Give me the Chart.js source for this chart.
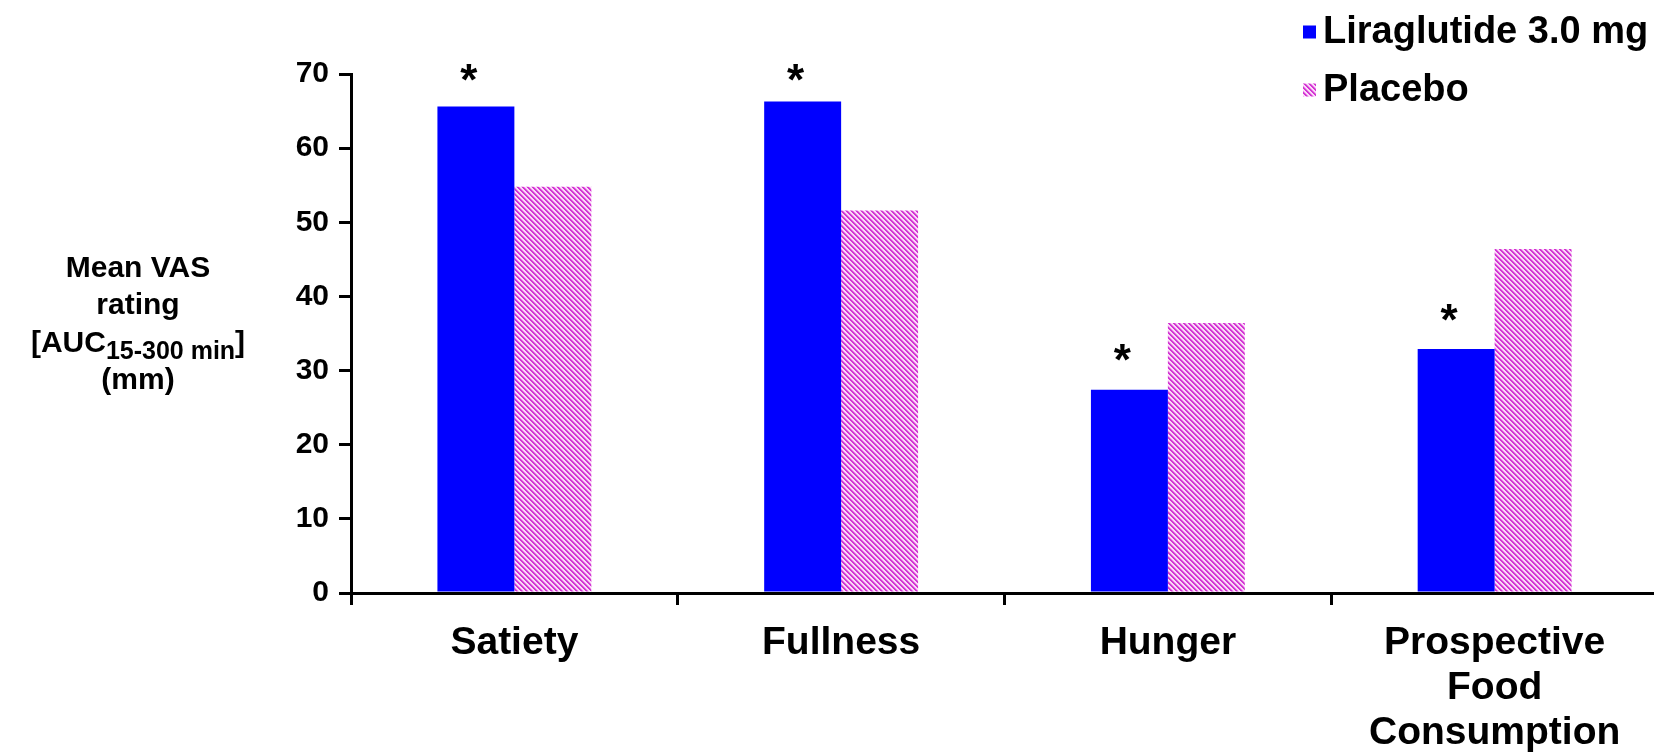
<!DOCTYPE html>
<html>
<head>
<meta charset="utf-8">
<script src="https://cdn.jsdelivr.net/npm/chart.js@4.4.1/dist/chart.umd.min.js"></script>
<style>
  html, body { margin: 0; padding: 0; background: #ffffff; overflow: hidden; }
  #wrap { position: relative; width: 1660px; height: 754px; }
</style>
</head>
<body>
<div id="wrap"><canvas id="c"></canvas></div>
<script>
// Mean VAS ratings, AUC 15-300 min (mm)
const categories = ['Satiety', 'Fullness', 'Hunger', ['Prospective', 'Food', 'Consumption']];
const liraglutide = [65.6, 66.3, 27.4, 32.9];
const placebo = [54.8, 51.6, 36.4, 46.4];
const significance = ['*', '*', '*', '*'];
const yTicks = [0, 10, 20, 30, 40, 50, 60, 70];
const seriesNames = ['Liraglutide 3.0 mg', 'Placebo'];
const yTitleLines = ['Mean VAS', 'rating', ['[AUC', '15-300 min', ']'], '(mm)'];

const FONT = "'Liberation Sans', Arial, sans-serif";

// diagonal hatch fill for the placebo bars
function makeHatch() {
  const s = 5;
  const c = document.createElement('canvas');
  c.width = s; c.height = s;
  const g = c.getContext('2d');
  const img = g.createImageData(s, s);
  for (let y = 0; y < s; y++) {
    for (let x = 0; x < s; x++) {
      const k = ((x - y) % s + s) % s;
      let col;
      if (k < 2) col = [212, 52, 212];
      else if (k === 2) col = [232, 140, 230];
      else col = [250, 218, 248];
      const p = (y * s + x) * 4;
      img.data[p] = col[0]; img.data[p + 1] = col[1]; img.data[p + 2] = col[2]; img.data[p + 3] = 255;
    }
  }
  g.putImageData(img, 0, 0);
  return g.createPattern(c, 'repeat');
}
const hatch = makeHatch();

// y-axis title with subscript
const yTitlePlugin = {
  id: 'yTitle',
  afterDraw(chart) {
    const ctx = chart.ctx;
    const cx = 138;
    const ys = [269, 306, 344, 381];
    const main = 30, sub = 25;
    ctx.save();
    ctx.fillStyle = '#000';
    ctx.textBaseline = 'middle';
    yTitleLines.forEach((line, i) => {
      if (Array.isArray(line)) {
        ctx.font = `bold ${main}px ${FONT}`;
        const w0 = ctx.measureText(line[0]).width;
        const w2 = ctx.measureText(line[2]).width;
        ctx.font = `bold ${sub}px ${FONT}`;
        const w1 = ctx.measureText(line[1]).width;
        let x = cx - (w0 + w1 + w2) / 2;
        ctx.textAlign = 'left';
        ctx.font = `bold ${main}px ${FONT}`;
        ctx.fillText(line[0], x, ys[i]);
        x += w0;
        ctx.font = `bold ${sub}px ${FONT}`;
        ctx.fillText(line[1], x, ys[i] + 8);
        x += w1;
        ctx.font = `bold ${main}px ${FONT}`;
        ctx.fillText(line[2], x, ys[i]);
      } else {
        ctx.font = `bold ${main}px ${FONT}`;
        ctx.textAlign = 'center';
        ctx.fillText(line, cx, ys[i]);
      }
    });
    ctx.restore();
  }
};

// significance markers above the liraglutide bars
const starPlugin = {
  id: 'stars',
  afterDatasetsDraw(chart) {
    const ctx = chart.ctx;
    const meta = chart.getDatasetMeta(0);
    ctx.save();
    ctx.fillStyle = '#000';
    ctx.font = `bold 44px ${FONT}`;
    ctx.textAlign = 'center';
    ctx.textBaseline = 'alphabetic';
    const m = ctx.measureText('*');
    const off = (m.actualBoundingBoxAscent - m.actualBoundingBoxDescent) / 2;
    meta.data.forEach((bar, i) => {
      if (!significance[i]) return;
      const cy = Math.max(bar.y - 37, 72);
      ctx.fillText(significance[i], bar.x - 7, cy + off);
    });
    ctx.restore();
  }
};

// legend in the top-right corner
const legendPlugin = {
  id: 'cornerLegend',
  afterDraw(chart) {
    const ctx = chart.ctx;
    const rows = [32, 90];
    const boxX = 1303, box = 13, textX = 1323;
    ctx.save();
    ctx.font = `bold 38px ${FONT}`;
    ctx.textBaseline = 'middle';
    ctx.textAlign = 'left';
    chart.data.datasets.forEach((ds, i) => {
      ctx.fillStyle = ds.backgroundColor;
      ctx.fillRect(boxX, rows[i] - box / 2, box, box);
      ctx.fillStyle = '#000';
      ctx.fillText(ds.label, textX, rows[i] + 1);
    });
    ctx.restore();
  }
};

new Chart(document.getElementById('c'), {
  type: 'bar',
  data: {
    labels: categories,
    datasets: [
      { label: seriesNames[0], data: liraglutide, backgroundColor: '#0000ff', borderWidth: 0 },
      { label: seriesNames[1], data: placebo, backgroundColor: hatch, borderWidth: 0 }
    ]
  },
  options: {
    responsive: true,
    maintainAspectRatio: false,
    animation: false,
    events: [],
    layout: { padding: { top: 74, right: 2, left: 0, bottom: 0 } },
    datasets: { bar: { categoryPercentage: 0.471, barPercentage: 1.0 } },
    plugins: { legend: { display: false }, tooltip: { enabled: false } },
    scales: {
      x: {
        ticks: {
          color: '#000',
          font: { family: FONT, weight: 'bold', size: 39, lineHeight: 1.15 },
          padding: 16,
          maxRotation: 0,
          autoSkip: false
        },
        grid: { drawOnChartArea: false, color: '#000', lineWidth: 3, tickLength: 12, offset: true },
        border: { color: '#000', width: 3 },
        afterFit(s) { s.height = 754 - 593; }
      },
      y: {
        min: yTicks[0],
        max: yTicks[yTicks.length - 1],
        afterBuildTicks(s) { s.ticks = yTicks.map(v => ({ value: v })); },
        ticks: {
          color: '#000',
          font: { family: FONT, weight: 'bold', size: 30 },
          padding: 10
        },
        grid: { drawOnChartArea: false, color: '#000', lineWidth: 3, tickLength: 12 },
        border: { color: '#000', width: 3 },
        afterFit(s) { s.width = 351; }
      }
    }
  },
  plugins: [yTitlePlugin, starPlugin, legendPlugin]
});
</script>
</body>
</html>
